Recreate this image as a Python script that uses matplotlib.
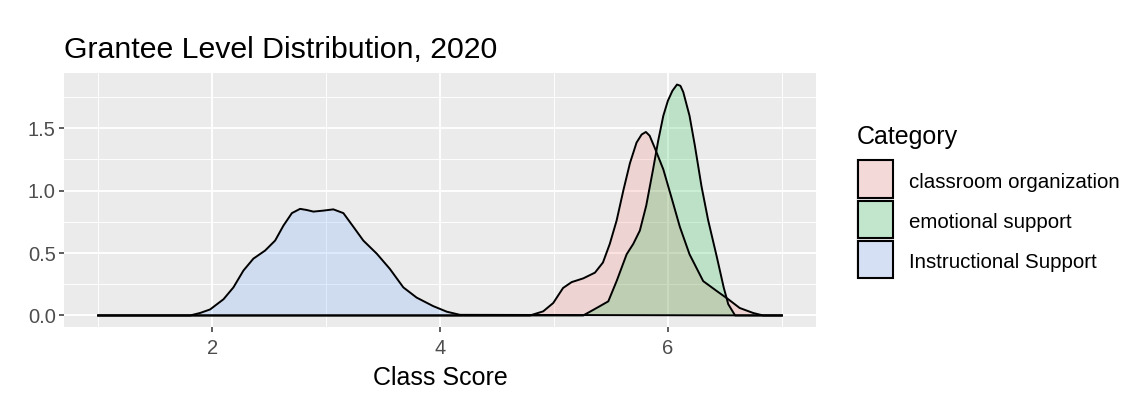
import matplotlib
matplotlib.use("Agg")
import matplotlib.pyplot as plt
from matplotlib.patches import Rectangle

plt.rcParams['font.family'] = ['Liberation Sans', 'DejaVu Sans']

categories = ["classroom organization", "emotional support", "Instructional Support"]
colors = ["#F8766D", "#00BA38", "#619CFF"]

# density curves (x = class score, y = density)
org_x = [1.0, 4.79, 4.906, 4.994, 5.08, 5.155, 5.257, 5.36, 5.43, 5.49, 5.55, 5.61, 5.667,
         5.725, 5.77, 5.807, 5.84, 5.886, 5.96, 6.03, 6.105, 6.19, 6.31, 6.43, 6.53, 6.63,
         6.748, 6.835, 7.0]
org_y = [0.0, 0.0, 0.033, 0.10, 0.22, 0.267, 0.297, 0.343, 0.424, 0.573, 0.76, 1.005, 1.22,
         1.385, 1.45, 1.47, 1.44, 1.34, 1.17, 0.95, 0.71, 0.49, 0.275, 0.195, 0.13, 0.06,
         0.02, 0.0, 0.0]

emo_x = [1.0, 5.257, 5.375, 5.477, 5.55, 5.638, 5.696, 5.754, 5.81, 5.87, 5.915, 5.96, 6.0,
         6.04, 6.08, 6.11, 6.135, 6.19, 6.237, 6.295, 6.353, 6.43, 6.49, 6.53, 6.59, 7.0]
emo_y = [0.0, 0.0, 0.06, 0.113, 0.275, 0.49, 0.573, 0.68, 0.88, 1.17, 1.40, 1.60, 1.72,
         1.80, 1.85, 1.84, 1.79, 1.60, 1.36, 1.035, 0.765, 0.467, 0.224, 0.09, 0.0, 0.0]

ins_x = [1.0, 1.807, 1.895, 1.982, 2.10, 2.187, 2.275, 2.362, 2.465, 2.553, 2.626, 2.70,
         2.772, 2.83, 2.889, 2.976, 3.064, 3.152, 3.24, 3.327, 3.445, 3.56, 3.678, 3.795,
         3.94, 4.06, 4.175, 7.0]
ins_y = [0.0, 0.0, 0.02, 0.048, 0.13, 0.225, 0.36, 0.455, 0.52, 0.60, 0.72, 0.82,
         0.854, 0.845, 0.832, 0.84, 0.85, 0.82, 0.71, 0.60, 0.495, 0.373, 0.225, 0.143,
         0.075, 0.03, 0.005, 0.0]

series = [(org_x, org_y), (emo_x, emo_y), (ins_x, ins_y)]

W, H = 1148, 395
fig = plt.figure(figsize=(W / 100, H / 100), dpi=100)
ax = fig.add_axes([64 / W, 1 - 327 / H, (816 - 64) / W, (327 - 73) / H])
ax.set_facecolor("#EBEBEB")

for (xs, ys), c in zip(series, colors):
    ax.fill_between(xs, ys, 0, color=c, alpha=0.2, linewidth=0, zorder=2)
    ax.plot(xs, ys, color="black", linewidth=1.4, zorder=3, solid_joinstyle="round")

ax.set_xlim(0.7, 7.3)
ax.set_ylim(-0.0925, 1.9425)
ax.set_xticks([2, 4, 6])
ax.set_xticks([1, 3, 5, 7], minor=True)
ax.set_yticks([0.0, 0.5, 1.0, 1.5])
ax.set_yticklabels(["0.0", "0.5", "1.0", "1.5"])
ax.set_yticks([0.25, 0.75, 1.25, 1.75], minor=True)
ax.grid(which="major", color="white", linewidth=1.3, zorder=0)
ax.grid(which="minor", color="white", linewidth=0.65, zorder=0)
ax.set_axisbelow(True)
for s in ax.spines.values():
    s.set_visible(False)
ax.tick_params(which="major", length=3.5, width=1.1, color="#333333",
               labelcolor="#4D4D4D", labelsize=14.5, pad=2.5)
ax.tick_params(axis="x", which="major", pad=5)
ax.tick_params(which="minor", length=0)
ax.set_xlabel("Class Score", fontsize=18, color="black", labelpad=6)
ax.set_title("Grantee Level Distribution, 2020", fontsize=21.8, loc="left", x=0.0, pad=11)

# legend
fig.text(857 / W, 1 - 137 / H, "Category", fontsize=18, va="center", ha="left")
key_top = 159
key_h = 40
for i, (cat, c) in enumerate(zip(categories, colors)):
    y0 = key_top + i * key_h
    fig.patches.append(Rectangle((856 / W, 1 - (y0 + key_h) / H), 38 / W, key_h / H,
                                 transform=fig.transFigure, facecolor="#F2F2F2",
                                 edgecolor="none", zorder=1))
    fig.patches.append(Rectangle((857.5 / W, 1 - (y0 + key_h - 1.5) / H), 35 / W, (key_h - 3) / H,
                                 transform=fig.transFigure, facecolor=c, alpha=0.2,
                                 edgecolor="none", zorder=2))
    fig.patches.append(Rectangle((857.5 / W, 1 - (y0 + key_h - 1.5) / H), 35 / W, (key_h - 3) / H,
                                 transform=fig.transFigure, facecolor="none",
                                 edgecolor="black", linewidth=1.5, zorder=3))
    fig.text(909 / W, 1 - (y0 + key_h / 2 + 3) / H, cat, fontsize=14.8, va="center", ha="left")

fig.savefig("out.png", dpi=100)
